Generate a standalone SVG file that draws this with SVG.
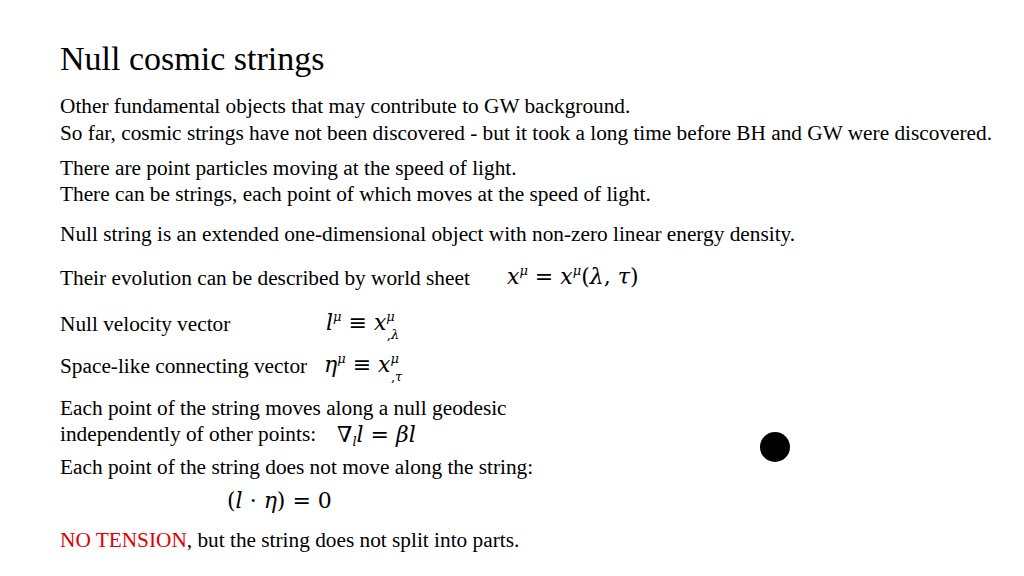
<svg xmlns="http://www.w3.org/2000/svg" width="1024" height="576" viewBox="0 0 1024 576">
<style>
text{font-family:"Liberation Serif","Times New Roman",serif;fill:#000}
.b{font-size:21.3px}
.m{font-size:22px;font-family:"DejaVu Serif","Liberation Serif",serif}
.i{font-style:italic}
</style>
<rect width="1024" height="576" fill="#fff"/>
<text x="60" y="70" font-size="34">Null cosmic strings</text>
<text class="b" x="60" y="113">Other fundamental objects that may contribute to GW background.</text>
<text class="b" x="60" y="140">So far, cosmic strings have not been discovered - but it took a long time before BH and GW were discovered.</text>
<text class="b" x="60" y="175">There are point particles moving at the speed of light.</text>
<text class="b" x="60" y="201">There can be strings, each point of which moves at the speed of light.</text>
<text class="b" x="60" y="241">Null string is an extended one-dimensional object with non-zero linear energy density.</text>
<text class="b" x="60" y="285">Their evolution can be described by world sheet</text>
<text class="m" x="507" y="284"><tspan class="i">x</tspan><tspan font-size="13" dy="-9" class="i">μ</tspan><tspan dy="9"> = </tspan><tspan class="i">x</tspan><tspan font-size="13" dy="-9" class="i">μ</tspan><tspan dy="9">(</tspan><tspan class="i">λ</tspan>, <tspan class="i">τ</tspan>)</text>
<text class="b" x="60" y="331">Null velocity vector</text>
<text class="m" x="326" y="330"><tspan class="i">l</tspan><tspan font-size="13" dy="-9" class="i">μ</tspan><tspan dy="9"> ≡ </tspan><tspan class="i">x</tspan><tspan font-size="13" dy="-9" class="i">μ</tspan><tspan font-size="13" dx="-8" dy="18">,<tspan class="i">λ</tspan></tspan></text>
<text class="b" x="60" y="373">Space-like connecting vector</text>
<text class="m" x="324" y="372"><tspan class="i">η</tspan><tspan font-size="13" dy="-9" class="i">μ</tspan><tspan dy="9"> ≡ </tspan><tspan class="i">x</tspan><tspan font-size="13" dy="-9" class="i">μ</tspan><tspan font-size="13" dx="-8" dy="18">,<tspan class="i">τ</tspan></tspan></text>
<text class="b" x="60" y="415">Each point of the string moves along a null geodesic</text>
<text class="b" x="60" y="441">independently of other points:</text>
<text class="m" x="337" y="442">∇<tspan font-size="13" dy="4" class="i">l</tspan><tspan dy="-4" class="i">l</tspan> = <tspan class="i">βl</tspan></text>
<text class="b" x="60" y="474">Each point of the string does not move along the string:</text>
<text class="m" x="227" y="508">(<tspan class="i">l</tspan> · <tspan class="i">η</tspan>) = 0</text>
<text class="b" x="60" y="547"><tspan fill="#e00000">NO TENSION</tspan>, but the string does not split into parts.</text>
<circle cx="775" cy="447" r="15" fill="#000"/>
</svg>
